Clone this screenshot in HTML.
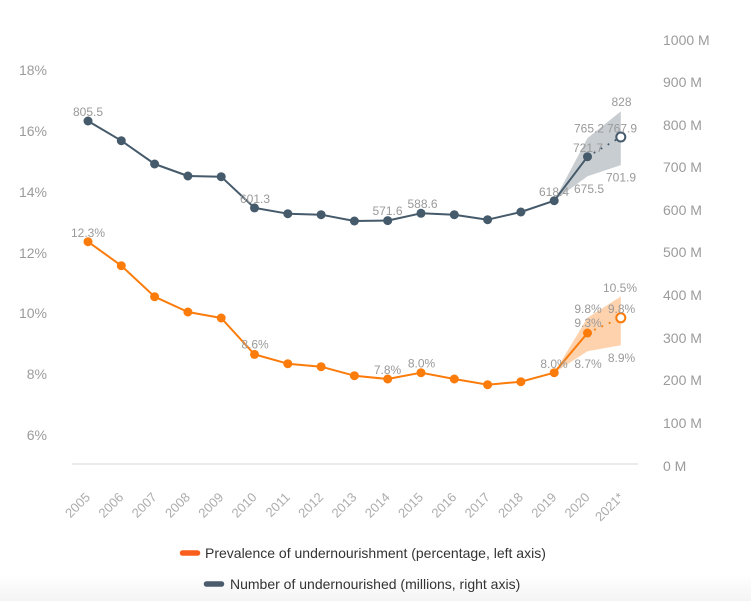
<!DOCTYPE html>
<html>
<head>
<meta charset="utf-8">
<style>
html,body{margin:0;padding:0;}
body{width:751px;height:601px;overflow:hidden;background:#fff;font-family:"Liberation Sans",sans-serif;}
.bg{position:absolute;left:0;top:0;width:751px;height:601px;background:linear-gradient(to bottom,#ffffff 0px,#ffffff 575px,#f4f4f4 601px);}
svg{position:absolute;left:0;top:0;}
</style>
</head>
<body>
<div class="bg"></div>
<svg width="751" height="601" viewBox="0 0 751 601" xmlns="http://www.w3.org/2000/svg" font-family="Liberation Sans, sans-serif">
  <!-- left axis labels -->
  <g fill="#9b9b9b" font-size="14" text-anchor="end">
    <text x="47" y="75">18%</text>
    <text x="47" y="136">16%</text>
    <text x="47" y="197">14%</text>
    <text x="47" y="258">12%</text>
    <text x="47" y="318">10%</text>
    <text x="47" y="379">8%</text>
    <text x="47" y="440">6%</text>
  </g>
  <!-- right axis labels -->
  <g fill="#9b9b9b" font-size="14" text-anchor="start">
    <text x="663" y="45">1000 M</text>
    <text x="663" y="87">900 M</text>
    <text x="663" y="130">800 M</text>
    <text x="663" y="172">700 M</text>
    <text x="663" y="215">600 M</text>
    <text x="663" y="257">500 M</text>
    <text x="663" y="300">400 M</text>
    <text x="663" y="343">300 M</text>
    <text x="663" y="385">200 M</text>
    <text x="663" y="428">100 M</text>
    <text x="663" y="471">0 M</text>
  </g>
  <!-- axis line -->
  <line x1="72" y1="464" x2="638" y2="464" stroke="#d6d6d6" stroke-width="1"/>
  <!-- x labels -->
  <g fill="#acacac" font-size="13" text-anchor="end">
    <text transform="translate(91,498) rotate(-45)">2005</text>
    <text transform="translate(124.3,498) rotate(-45)">2006</text>
    <text transform="translate(157.6,498) rotate(-45)">2007</text>
    <text transform="translate(190.9,498) rotate(-45)">2008</text>
    <text transform="translate(224.2,498) rotate(-45)">2009</text>
    <text transform="translate(257.5,498) rotate(-45)">2010</text>
    <text transform="translate(290.8,498) rotate(-45)">2011</text>
    <text transform="translate(324.1,498) rotate(-45)">2012</text>
    <text transform="translate(357.4,498) rotate(-45)">2013</text>
    <text transform="translate(390.7,498) rotate(-45)">2014</text>
    <text transform="translate(424,498) rotate(-45)">2015</text>
    <text transform="translate(457.3,498) rotate(-45)">2016</text>
    <text transform="translate(490.6,498) rotate(-45)">2017</text>
    <text transform="translate(523.9,498) rotate(-45)">2018</text>
    <text transform="translate(557.2,498) rotate(-45)">2019</text>
    <text transform="translate(590.5,498) rotate(-45)">2020</text>
    <text transform="translate(624.5,498) rotate(-45)">2021*</text>
  </g>

  <!-- bands -->
  <polygon points="554.2,200.7 587.5,138.1 620.8,111.4 620.8,165.1 587.5,176.3" fill="#c8cdd1"/>
  <polygon points="554.2,372.7 587.5,317.8 620.8,296.5 620.8,345.2 587.5,351.3" fill="#fdd2ad"/>

  <!-- dark series -->
  <polyline fill="none" stroke="#455a6b" stroke-width="2" stroke-linejoin="round"
    points="88,121 121.3,140.7 154.6,164 187.9,176 221.2,176.7 254.5,207.9 287.8,213.7 321.1,214.7 354.4,221 387.7,220.6 421,213.3 454.3,214.7 487.6,219.7 520.9,212 554.2,200.7 587.5,156.7"/>
  <line x1="587.5" y1="156.7" x2="620.8" y2="137" stroke="#455a6b" stroke-width="2" stroke-dasharray="0.1,8" stroke-linecap="round"/>
  <g fill="#455a6b">
    <circle cx="88" cy="121" r="4.5"/>
    <circle cx="121.3" cy="140.7" r="4.5"/>
    <circle cx="154.6" cy="164" r="4.5"/>
    <circle cx="187.9" cy="176" r="4.5"/>
    <circle cx="221.2" cy="176.7" r="4.5"/>
    <circle cx="254.5" cy="207.9" r="4.5"/>
    <circle cx="287.8" cy="213.7" r="4.5"/>
    <circle cx="321.1" cy="214.7" r="4.5"/>
    <circle cx="354.4" cy="221" r="4.5"/>
    <circle cx="387.7" cy="220.6" r="4.5"/>
    <circle cx="421" cy="213.3" r="4.5"/>
    <circle cx="454.3" cy="214.7" r="4.5"/>
    <circle cx="487.6" cy="219.7" r="4.5"/>
    <circle cx="520.9" cy="212" r="4.5"/>
    <circle cx="554.2" cy="200.7" r="4.5"/>
    <circle cx="587.5" cy="156.7" r="4.5"/>
  </g>
  <circle cx="620.8" cy="137" r="4.5" fill="#fff" stroke="#455a6b" stroke-width="2"/>

  <!-- orange series -->
  <polyline fill="none" stroke="#fb7b0b" stroke-width="2" stroke-linejoin="round"
    points="88,241.7 121.3,265.7 154.6,296.7 187.9,312 221.2,318 254.5,354.4 287.8,363.7 321.1,366.7 354.4,375.7 387.7,379 421,372.7 454.3,379 487.6,384.7 520.9,381.7 554.2,372.7 587.5,333"/>
  <line x1="587.5" y1="333" x2="620.8" y2="317.8" stroke="#fb7b0b" stroke-width="2" stroke-dasharray="0.1,8" stroke-linecap="round"/>
  <g fill="#fb7b0b">
    <circle cx="88" cy="241.7" r="4.5"/>
    <circle cx="121.3" cy="265.7" r="4.5"/>
    <circle cx="154.6" cy="296.7" r="4.5"/>
    <circle cx="187.9" cy="312" r="4.5"/>
    <circle cx="221.2" cy="318" r="4.5"/>
    <circle cx="254.5" cy="354.4" r="4.5"/>
    <circle cx="287.8" cy="363.7" r="4.5"/>
    <circle cx="321.1" cy="366.7" r="4.5"/>
    <circle cx="354.4" cy="375.7" r="4.5"/>
    <circle cx="387.7" cy="379" r="4.5"/>
    <circle cx="421" cy="372.7" r="4.5"/>
    <circle cx="454.3" cy="379" r="4.5"/>
    <circle cx="487.6" cy="384.7" r="4.5"/>
    <circle cx="520.9" cy="381.7" r="4.5"/>
    <circle cx="554.2" cy="372.7" r="4.5"/>
    <circle cx="587.5" cy="333" r="4.5"/>
  </g>
  <circle cx="620.8" cy="317.8" r="4.5" fill="#fff" stroke="#fb7b0b" stroke-width="2"/>

  <!-- data labels -->
  <g fill="#9a9a9a" font-size="12" text-anchor="middle">
    <text x="88" y="116">805.5</text>
    <text x="255" y="203">601.3</text>
    <text x="387.5" y="215">571.6</text>
    <text x="422.5" y="208">588.6</text>
    <text x="554" y="196">618.4</text>
    <text x="589" y="132.5">765.2</text>
    <text x="622" y="132.5">767.9</text>
    <text x="621.5" y="106">828</text>
    <text x="588" y="152">721.7</text>
    <text x="589" y="193">675.5</text>
    <text x="621" y="181.5">701.9</text>

    <text x="88" y="237">12.3%</text>
    <text x="255" y="348.5">8.6%</text>
    <text x="387.5" y="374">7.8%</text>
    <text x="421.5" y="367.5">8.0%</text>
    <text x="554" y="368">8.0%</text>
    <text x="588" y="368">8.7%</text>
    <text x="588" y="327">9.3%</text>
    <text x="588" y="313">9.8%</text>
    <text x="621.5" y="313">9.8%</text>
    <text x="620" y="292">10.5%</text>
    <text x="621.5" y="362">8.9%</text>
  </g>

  <!-- legend -->
  <line x1="182.5" y1="553" x2="197.5" y2="553" stroke="#fa5e1c" stroke-width="5.5" stroke-linecap="round"/>
  <text x="205" y="558" font-size="14" fill="#333">Prevalence of undernourishment (percentage, left axis)</text>
  <line x1="206.5" y1="584" x2="221.5" y2="584" stroke="#4a5b6b" stroke-width="5.5" stroke-linecap="round"/>
  <text x="230" y="589" font-size="14" fill="#333">Number of undernourished (millions, right axis)</text>
</svg>
</body>
</html>
